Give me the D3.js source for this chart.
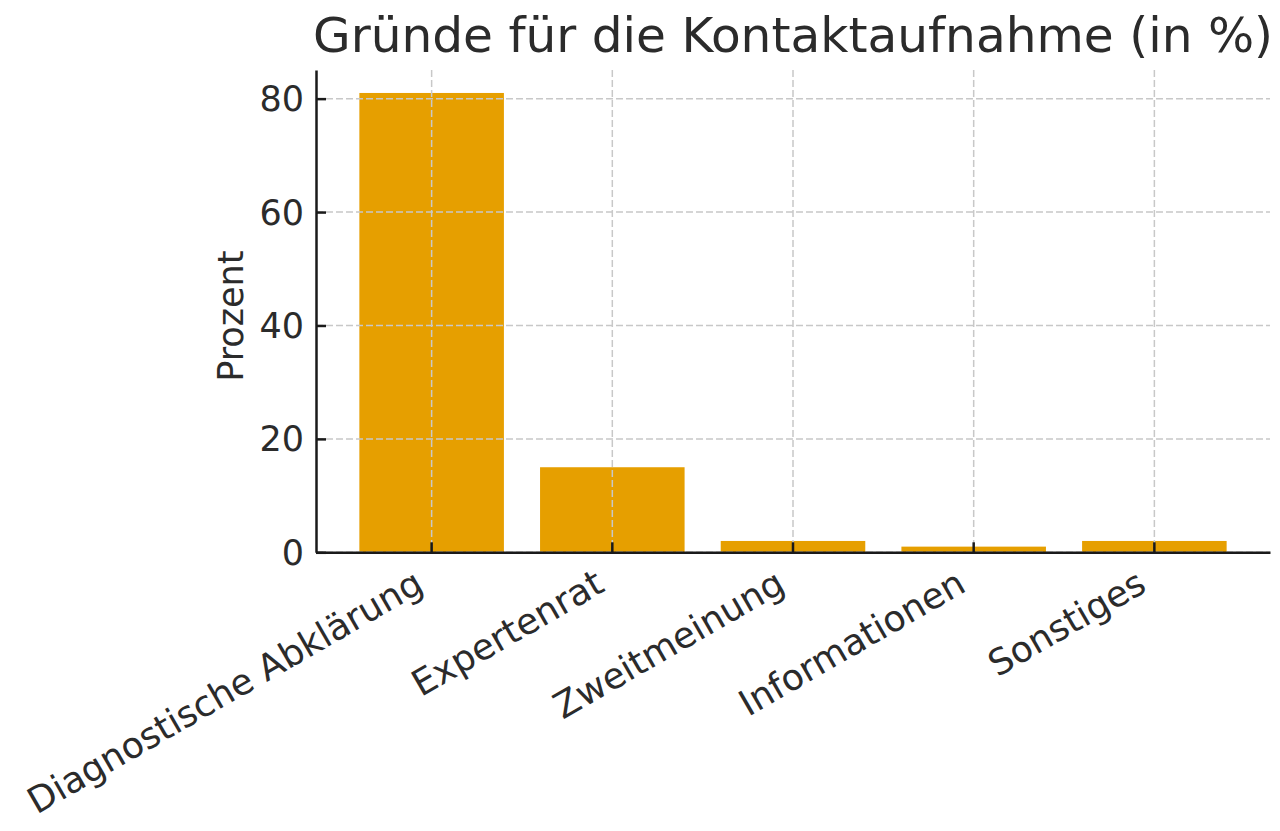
<!DOCTYPE html>
<html>
<head>
<meta charset="utf-8">
<script src="https://cdn.jsdelivr.net/npm/d3@7"></script>
<style>
  body { margin: 0; background: #fff; }
  text { font-family: "DejaVu Sans", sans-serif; fill: #2b2b2b; }
</style>
</head>
<body>
<div id="chart"></div>
<script>
// data
const categories = ["Diagnostische Abklärung", "Expertenrat", "Zweitmeinung", "Informationen", "Sonstiges"];
const values = [81, 15, 2, 1, 2];
const yTicks = [0, 20, 40, 60, 80];
const title = "Gründe für die Kontaktaufnahme (in %)";
const yLabel = "Prozent";

const W = 1280, H = 831;
const margin = { top: 70, right: 10, bottom: 278.7, left: 316 },
    width = W - margin.left - margin.right,
    height = H - margin.top - margin.bottom;

const data = categories.map((c, i) => ({ cat: c, value: values[i] }));

let x = d3.scaleBand()
    .domain(categories)
    .range([0, width])
    .paddingInner(0.2)
    .paddingOuter(0.24);

let y = d3.scaleLinear()
    .domain([0, d3.max(values) * 1.05])
    .range([height, 0]);

let svg = d3.select("#chart").append("svg")
    .attr("width", W)
    .attr("height", H)
  .append("g")
    .attr("transform", `translate(${margin.left},${margin.top})`);

// bars
svg.selectAll(".bar")
    .data(data)
  .enter().append("rect")
    .attr("class", "bar")
    .attr("x", d => x(d.cat))
    .attr("width", x.bandwidth())
    .attr("y", d => y(d.value))
    .attr("height", d => height - y(d.value))
    .attr("fill", "#E69F00");

// grid, drawn above the bars
const gridStyle = g => g
    .attr("stroke", "#c8c8c8")
    .attr("stroke-width", 1.5)
    .attr("stroke-dasharray", "7,3");

svg.append("g")
    .call(gridStyle)
  .selectAll("line")
    .data(yTicks)
  .enter().append("line")
    .attr("x1", 0).attr("x2", width)
    .attr("y1", d => y(d)).attr("y2", d => y(d));

svg.append("g")
    .call(gridStyle)
  .selectAll("line")
    .data(categories)
  .enter().append("line")
    .attr("x1", d => x(d) + x.bandwidth() / 2)
    .attr("x2", d => x(d) + x.bandwidth() / 2)
    .attr("y1", 0).attr("y2", height);

// axes: inward ticks, custom labels
let xAxis = d3.axisTop(x).tickSize(10).tickSizeOuter(0).tickFormat("");
let yAxis = d3.axisRight(y).tickValues(yTicks).tickSize(10).tickSizeOuter(0).tickFormat("");

const axisStyle = g => g
    .call(g => g.select(".domain").attr("stroke", "#1a1a1a").attr("stroke-width", 2.5))
    .call(g => g.selectAll(".tick line").attr("stroke", "#1a1a1a").attr("stroke-width", 2.5));

svg.append("g")
    .attr("transform", `translate(0,${height})`)
    .call(xAxis)
    .call(axisStyle);

svg.append("g")
    .call(yAxis)
    .call(axisStyle);

// y tick labels
svg.append("g").selectAll("text")
    .data(yTicks)
  .enter().append("text")
    .attr("x", -12)
    .attr("y", d => y(d))
    .attr("dy", "0.36em")
    .attr("text-anchor", "end")
    .attr("font-size", 35)
    .text(d => d);

// x tick labels, rotated 30 degrees
svg.append("g").selectAll("text")
    .data(categories)
  .enter().append("text")
    .attr("transform", d => `translate(${x(d) + x.bandwidth() / 2 - 6},${height + 38}) rotate(-30)`)
    .attr("text-anchor", "end")
    .attr("font-size", 36)
    .text(d => d);

// y axis label
svg.append("text")
    .attr("transform", `translate(-73,${height / 2 + 5}) rotate(-90)`)
    .attr("text-anchor", "middle")
    .attr("font-size", 35)
    .text(yLabel);

// title
svg.append("text")
    .attr("x", width / 2)
    .attr("y", -18)
    .attr("text-anchor", "middle")
    .attr("font-size", 48.6)
    .text(title);
</script>
</body>
</html>
